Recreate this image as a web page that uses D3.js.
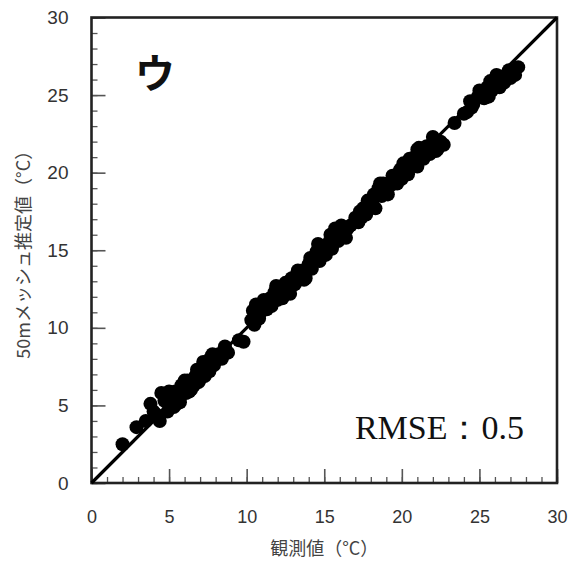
<!DOCTYPE html>
<html>
<head>
<meta charset="utf-8">
<script src="https://cdn.jsdelivr.net/npm/d3@7"></script>
<style>
  html, body { margin: 0; padding: 0; background: #fff; }
  svg { display: block; }
</style>
</head>
<body>
<svg id="chart" width="577" height="563"></svg>
<script>
// Observed (x) vs 50 m mesh estimated (y) temperature, °C
const observed = [
  2.0, 2.9, 3.8, 4.2, 4.5, 4.4, 4.9, 5.1, 5.3, 5.6, 5.8, 5.5, 6.1, 6.2, 6.5, 6.7,
  6.9, 7.1, 7.3, 7.5, 7.7, 7.9, 8.2, 8.4, 8.6, 8.8, 9.5, 10.3, 10.5, 10.6, 10.9, 11.1,
  11.3, 11.5, 11.8, 12.0, 12.2, 12.4, 12.7, 12.9, 13.1, 13.4, 13.6, 13.8, 14.0, 14.2, 14.4, 14.5,
  14.7, 14.9, 15.1, 15.3, 15.5, 15.7, 15.9, 16.2, 16.4, 16.7, 17.0, 17.2, 17.5, 17.7, 17.9, 18.1,
  18.3, 18.5, 18.7, 18.9, 19.1, 19.3, 19.6, 19.8, 20.0, 20.2, 20.4, 20.6, 20.8, 21.0, 21.2, 21.4,
  21.6, 21.8, 22.0, 22.3, 22.5, 22.7, 23.4, 24.2, 24.4, 24.6, 24.9, 25.2, 25.5, 25.8, 26.0, 26.2,
  26.4, 26.6, 26.8, 27.0, 27.2, 27.5, 6.4, 7.4, 9.8, 12.3, 13.2, 14.1, 16.0, 17.4, 18.6, 19.9,
  21.0, 22.2, 25.6, 26.5,
  3.5, 4.0, 4.7, 5.0, 5.4, 5.7, 6.0, 6.3, 6.6, 6.8, 7.0, 7.2, 7.6, 7.8, 8.0, 8.5,
  10.4, 10.8, 11.2, 11.6, 11.9, 12.5, 12.8, 13.3, 13.7, 14.3, 14.6, 14.8, 15.2, 15.4, 16.1, 16.5,
  17.3, 17.8, 18.2, 18.8, 19.4, 19.7, 20.1, 20.5, 21.1, 21.5, 22.0, 22.4, 24.0, 24.5, 25.0, 25.3,
  25.7, 26.1, 26.3, 26.9, 27.3
];
const estimated = [
  2.5, 3.6, 5.1, 4.4, 5.8, 4.0, 4.6, 5.3, 4.9, 5.7, 6.3, 5.1, 5.8, 6.6, 6.2, 6.9,
  6.5, 7.3, 6.9, 7.7, 8.1, 7.6, 8.3, 8.0, 8.8, 8.4, 9.2, 10.5, 10.2, 11.5, 11.0, 11.8,
  11.2, 11.9, 12.3, 11.8, 12.5, 12.1, 12.6, 13.2, 12.8, 13.3, 13.7, 13.2, 14.1, 13.8, 14.6, 14.9,
  14.3, 15.2, 14.7, 15.5, 15.1, 16.4, 15.6, 16.0, 15.8, 16.6, 17.1, 16.8, 17.7, 17.3, 17.9, 18.2,
  17.7, 19.0, 18.5, 18.8, 18.6, 19.2, 19.5, 20.0, 19.6, 20.3, 19.9, 20.7, 21.0, 20.4, 21.3, 20.9,
  21.7, 21.2, 21.9, 21.5, 22.0, 21.8, 23.2, 23.9, 24.6, 24.4, 24.9, 25.0, 25.5, 25.3, 25.9, 25.6,
  26.2, 25.8, 26.3, 26.1, 26.5, 26.8, 6.0, 7.6, 9.1, 11.9, 13.4, 14.5, 16.2, 17.1, 19.3, 20.2,
  21.5, 21.4, 24.9, 26.0,
  4.0, 4.6, 5.3, 5.9, 5.9, 5.2, 6.6, 5.9, 6.3, 7.3, 6.7, 7.8, 7.2, 8.3, 7.9, 8.5,
  11.1, 10.6, 11.5, 11.4, 12.7, 12.9, 12.2, 13.7, 13.1, 14.2, 15.4, 14.6, 15.1, 16.0, 16.6, 16.4,
  17.5, 18.2, 18.6, 19.3, 19.8, 19.3, 20.6, 20.9, 21.6, 21.1, 22.3, 21.7, 23.8, 24.2, 25.3, 24.8,
  25.9, 26.3, 25.5, 26.6, 26.3
];
const tickValues = [0, 5, 10, 15, 20, 25, 30];
const minorTickValues = d3.range(0, 31, 1);
const xTitle = "観測値（°C）";
const yTitle = "50mメッシュ推定値（°C）";
const panelLabel = "ウ";
const rmseLabel = "RMSE：0.5";

const svg = d3.select("#chart");
const x = d3.scaleLinear().domain([0, 30]).range([91.5, 557]);
const y = d3.scaleLinear().domain([0, 30]).range([483, 17.5]);

const tickColor = "#555";
const labelFont = "'Liberation Sans', Arial, sans-serif";
const cjkFont = "'Noto Sans CJK JP', sans-serif";

// minor ticks (inside)
const xMinor = d3.axisTop(x).tickValues(minorTickValues).tickSize(6).tickFormat("");
const yMinor = d3.axisRight(y).tickValues(minorTickValues).tickSize(6).tickFormat("");
svg.append("g").attr("transform", `translate(0,${y(0)})`).call(xMinor)
  .call(g => g.select(".domain").remove())
  .selectAll("line").attr("stroke", tickColor).attr("stroke-width", 1.3);
svg.append("g").attr("transform", `translate(${x(0)},0)`).call(yMinor)
  .call(g => g.select(".domain").remove())
  .selectAll("line").attr("stroke", tickColor).attr("stroke-width", 1.3);

// major ticks (inside, longer)
const xMajor = d3.axisTop(x).tickValues(tickValues).tickSize(14).tickFormat("");
const yMajor = d3.axisRight(y).tickValues(tickValues).tickSize(14).tickFormat("");
svg.append("g").attr("transform", `translate(0,${y(0)})`).call(xMajor)
  .call(g => g.select(".domain").remove())
  .selectAll("line").attr("stroke", tickColor).attr("stroke-width", 1.6);
svg.append("g").attr("transform", `translate(${x(0)},0)`).call(yMajor)
  .call(g => g.select(".domain").remove())
  .selectAll("line").attr("stroke", tickColor).attr("stroke-width", 1.6);

// tick labels
const xLabels = d3.axisBottom(x).tickValues(tickValues).tickSize(0).tickPadding(27);
svg.append("g").attr("transform", `translate(0,${y(0)})`).call(xLabels)
  .call(g => g.select(".domain").remove())
  .selectAll("text").attr("font-family", labelFont).attr("font-size", 18).attr("fill", "#333");
const yLabels = d3.axisLeft(y).tickValues(tickValues).tickSize(0).tickPadding(23);
svg.append("g").attr("transform", `translate(${x(0)},0)`).call(yLabels)
  .call(g => g.select(".domain").remove())
  .selectAll("text").attr("font-family", labelFont).attr("font-size", 19).attr("fill", "#333");

// plot frame
svg.append("rect")
  .attr("x", x(0)).attr("y", y(30))
  .attr("width", x(30) - x(0)).attr("height", y(0) - y(30))
  .attr("fill", "none").attr("stroke", "#222").attr("stroke-width", 2.6);

// 1:1 line
svg.append("line")
  .attr("x1", x(0)).attr("y1", y(0)).attr("x2", x(30)).attr("y2", y(30))
  .attr("stroke", "#000").attr("stroke-width", 3.2);

// points
const pts = observed.map((v, i) => ({ o: v, e: estimated[i] }));
svg.append("g").selectAll("circle").data(pts).join("circle")
  .attr("cx", d => x(d.o)).attr("cy", d => y(d.e)).attr("r", 7)
  .attr("fill", "#000");

// panel label and RMSE
svg.append("text").attr("x", 155).attr("y", 88).attr("text-anchor", "middle")
  .attr("font-family", cjkFont).attr("font-weight", 700)
  .attr("font-size", 40).attr("fill", "#111").text(panelLabel);
svg.append("text").attr("x", 524).attr("y", 439).attr("text-anchor", "end")
  .attr("font-family", "'Liberation Serif', 'Times New Roman', serif")
  .attr("font-size", 34).attr("fill", "#111").text(rmseLabel);

// axis titles
svg.append("text").attr("x", (x(0) + x(30)) / 2).attr("y", 555).attr("text-anchor", "middle")
  .attr("font-family", cjkFont).attr("font-size", 18).attr("fill", "#444")
  .text(xTitle);
svg.append("text").attr("transform", `translate(22,${(y(0) + y(30)) / 2}) rotate(-90)`)
  .attr("text-anchor", "middle").attr("dominant-baseline", "central")
  .attr("font-family", cjkFont).attr("font-size", 18).attr("fill", "#444")
  .text(yTitle);
</script>
</body>
</html>
